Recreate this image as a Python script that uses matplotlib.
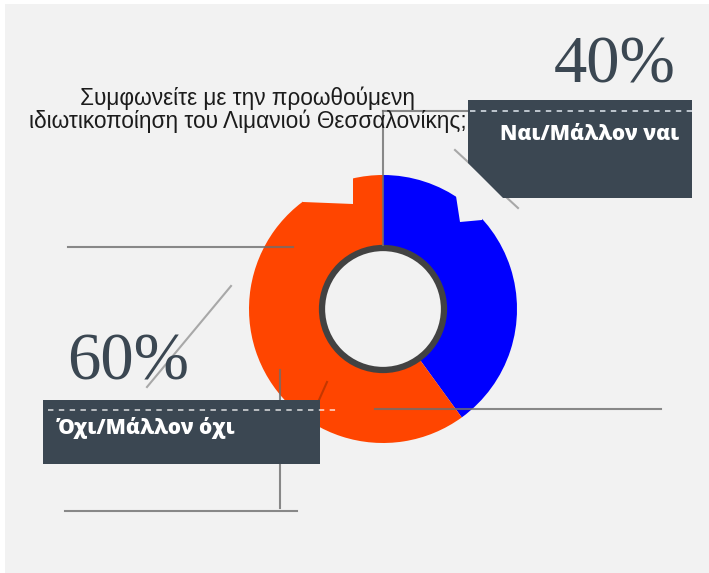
import matplotlib.pyplot as plt
from matplotlib.patches import Polygon, Circle

# data
labels = ["Ναι/Μάλλον ναι", "Όχι/Μάλλον όχι"]
shares = [40, 60]
colors = ["#0000ff", "#ff4500"]
question = "Συμφωνείτε με την προωθούμενη\nιδιωτικοποίηση του Λιμανιού Θεσσαλονίκης;"

bg = "#f2f2f2"
box_color = "#3b4752"
line_color = "#6e6e6e"

fig = plt.figure(figsize=(7.09, 5.73), dpi=100, facecolor="white")
ax = fig.add_axes([0, 0, 1, 1])

# donut (image pixel coords, y pointing down)
cx, cy, r_out, r_in = 383, 309, 134, 64
ax.pie(shares, colors=colors, startangle=-90, counterclock=True,
       center=(cx, cy), radius=r_out)
ax.set_xlim(0, 709)
ax.set_ylim(573, 0)
ax.set_aspect("auto")
ax.axis("off")

# panel background
ax.add_patch(Polygon([(5, 4), (709, 4), (709, 573), (5, 573)],
                     closed=True, facecolor=bg, edgecolor="none", zorder=-5))

# notches cut out of the outer edge
ax.add_patch(Polygon([(353, 204), (303, 202), (290, 160), (353, 160)],
                     facecolor=bg, edgecolor="none", zorder=3))
ax.add_patch(Polygon([(456, 196), (460, 222), (482, 220), (492, 190)],
                     facecolor=bg, edgecolor="none", zorder=3))

# hole
ax.add_patch(Circle((cx, cy), r_in - 3, facecolor=bg, edgecolor="#424242",
                    linewidth=4.5, zorder=4))

# guide lines
kw = dict(color=line_color, linewidth=1.5, alpha=0.8, zorder=5)
ax.plot([383, 383], [111, 245], **kw)
ax.plot([383, 468], [111, 111], **kw)
ax.plot([68, 293], [247, 247], **kw)
ax.plot([375, 661], [409, 409], **kw)
ax.plot([280, 280], [370, 508], **kw)
ax.plot([65, 297], [511, 511], **kw)
ax.plot([327, 319], [382, 400], color="#8a2a00", linewidth=1.5, alpha=0.5, zorder=5)
ax.plot([231, 147], [286, 387], color="#a8a8a8", linewidth=1.5, zorder=5)
ax.plot([455, 518], [150, 208], color="#a8a8a8", linewidth=1.5, zorder=5)

# label boxes
ax.add_patch(Polygon([(468, 100), (692, 100), (692, 198), (503, 198), (468, 163)],
                     facecolor=box_color, edgecolor="none", zorder=6))
ax.add_patch(Polygon([(43, 400), (320, 400), (320, 464), (43, 464)],
                     facecolor=box_color, edgecolor="none", zorder=6))
ax.plot([470, 692], [111, 111], color="#c9d1d9", linewidth=1.3,
        linestyle=(0, (3, 3)), zorder=7)
ax.plot([48, 338], [410, 410], color="white", linewidth=1.3, alpha=0.7,
        linestyle=(0, (3, 3)), zorder=7)

ax.text(590, 134, labels[0], color="white", fontsize=15, fontweight="heavy",
        family="Open Sans", ha="center", va="center", zorder=8)
ax.text(57, 428, labels[1], color="white", fontsize=15, fontweight="heavy",
        family="Open Sans", ha="left", va="center", zorder=8)

ax.text(615, 66, f"{shares[0]}%", color=box_color, fontsize=48,
        family="Liberation Serif", ha="center", va="center", zorder=8)
ax.text(128, 363, f"{shares[1]}%", color=box_color, fontsize=48,
        family="Liberation Serif", ha="center", va="center", zorder=8)

ax.text(248, 110, question, color="#1c1c1c", fontsize=16.3,
        family="Liberation Sans", ha="center", va="center",
        linespacing=0.95, zorder=8)

fig.savefig("out.png", dpi=100, facecolor="white")
